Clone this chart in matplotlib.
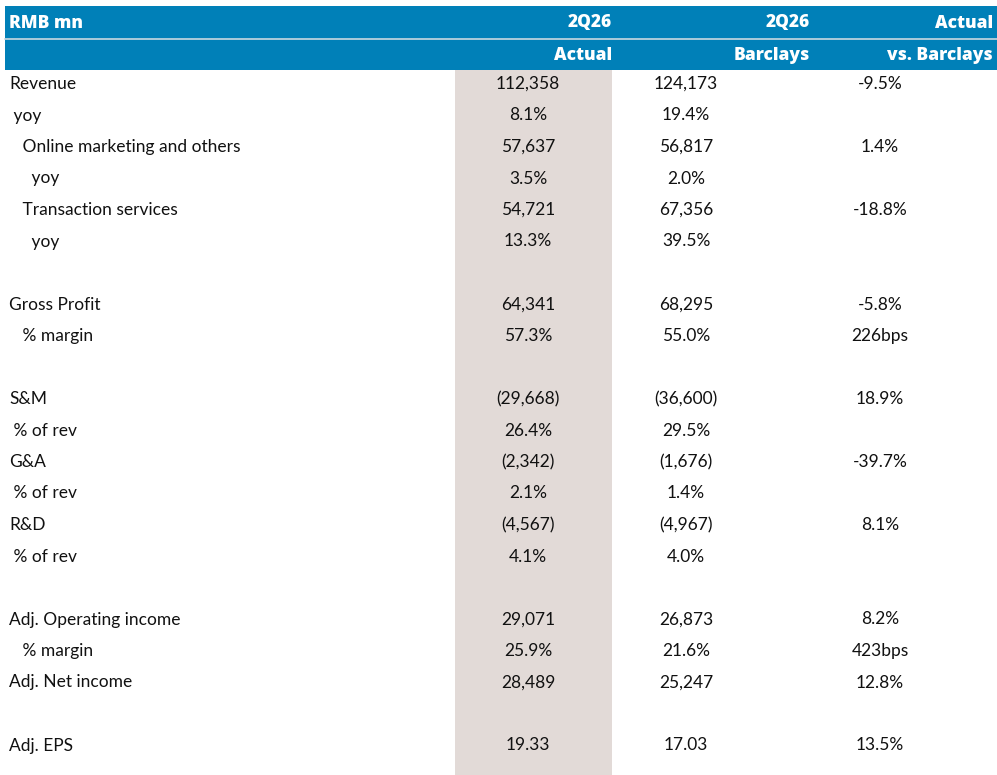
import matplotlib.pyplot as plt
from matplotlib.patches import Rectangle

# --- Table data ---
LABELS = ["Revenue", " yoy", "   Online marketing and others", "     yoy",
          "   Transaction services", "     yoy", "",
          "Gross Profit", "   % margin", "",
          "S&M", " % of rev", "G&A", " % of rev", "R&D", " % of rev", "",
          "Adj. Operating income", "   % margin", "Adj. Net income", "",
          "Adj. EPS"]
ACTUAL = ["112,358", "8.1%", "57,637", "3.5%", "54,721", "13.3%", "",
          "64,341", "57.3%", "",
          "(29,668)", "26.4%", "(2,342)", "2.1%", "(4,567)", "4.1%", "",
          "29,071", "25.9%", "28,489", "", "19.33"]
BARCLAYS = ["124,173", "19.4%", "56,817", "2.0%", "67,356", "39.5%", "",
            "68,295", "55.0%", "",
            "(36,600)", "29.5%", "(1,676)", "1.4%", "(4,967)", "4.0%", "",
            "26,873", "21.6%", "25,247", "", "17.03"]
DIFF = ["-9.5%", "", "1.4%", "", "-18.8%", "", "",
        "-5.8%", "226bps", "",
        "18.9%", "", "-39.7%", "", "8.1%", "", "",
        "8.2%", "423bps", "12.8%", "", "13.5%"]
HEAD1 = ["RMB mn", "2Q26", "2Q26", "Actual"]
HEAD2 = ["", "Actual", "Barclays", "vs. Barclays"]

W, H = 997, 775
BLUE = "#0080b8"
SHADE = "#e2dad7"
FONT = "Lato"

fig = plt.figure(figsize=(W / 100, H / 100), dpi=100)
ax = fig.add_axes([0, 0, 1, 1])
ax.set_xlim(0, W)
ax.set_ylim(H, 0)
ax.axis("off")

# header band
ax.add_patch(Rectangle((5, 6), W - 5, 64, color=BLUE, lw=0))
ax.plot([5, W], [39, 39], color="#c8d8e0", lw=1.2)
# shaded Actual column
ax.add_patch(Rectangle((455, 70), 157, H - 70, color=SHADE, lw=0))

right_edges = [None, 612, 810, 993]
for i in range(4):
    x, ha = (9, "left") if i == 0 else (right_edges[i], "right")
    for y, txt in ((23, HEAD1[i]), (55, HEAD2[i])):
        ax.text(x, y, txt, color="white", fontsize=12.5, fontweight="heavy",
                ha=ha, va="center", family="Open Sans")

row_h = 31.5
for r, lab in enumerate(LABELS):
    y = 84 + r * row_h
    ax.text(9, y, lab, fontsize=12.5, ha="left", va="center", family=FONT, color="#111111")
    ax.text(528, y, ACTUAL[r], fontsize=12.5, ha="center", va="center", family=FONT, color="#111111")
    ax.text(686, y, BARCLAYS[r], fontsize=12.5, ha="center", va="center", family=FONT, color="#111111")
    ax.text(880, y, DIFF[r], fontsize=12.5, ha="center", va="center", family=FONT, color="#111111")

fig.savefig("out.png", dpi=100)
